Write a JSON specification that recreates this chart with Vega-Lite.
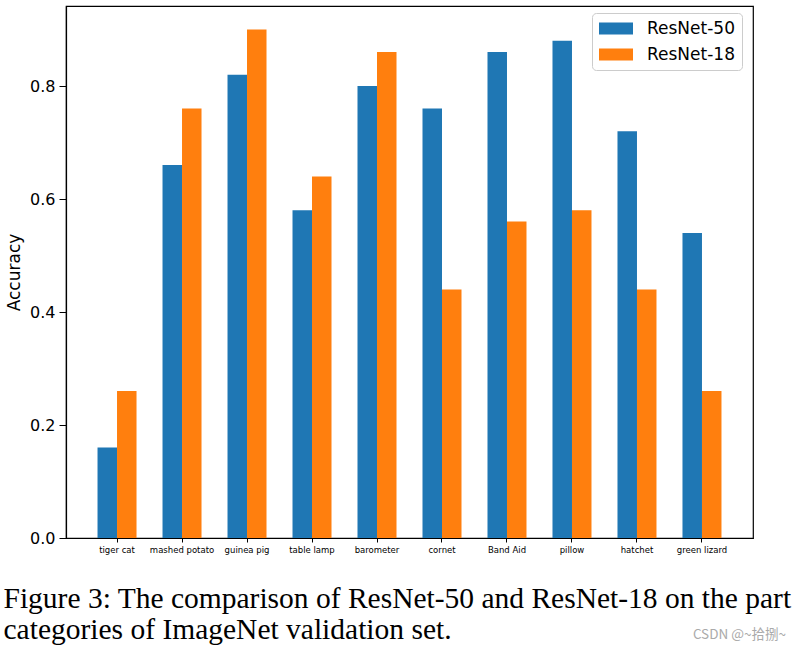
{
  "$schema": "https://vega.github.io/schema/vega-lite/v6.json",
  "width": 687,
  "height": 532,
  "autosize": {"type": "none"},
  "padding": {"left": 66, "top": 6, "right": 47, "bottom": 114},
  "background": "white",
  "config": {
    "view": {"stroke": "black", "strokeWidth": 1.2},
    "font": "DejaVu Sans"
  },
  "title": {
    "text": "CSDN @~拾捌~",
    "orient": "top",
    "anchor": "end",
    "frame": "group",
    "offset": 0,
    "dx": 33,
    "dy": 635,
    "font": "Noto Sans CJK SC",
    "fontSize": 13.5,
    "fontWeight": "normal",
    "color": "#aaaaaa"
  },
  "data": {
    "values": [
      {"category": "tiger cat", "model": "ResNet-50", "accuracy": 0.16},
      {"category": "tiger cat", "model": "ResNet-18", "accuracy": 0.26},
      {"category": "mashed potato", "model": "ResNet-50", "accuracy": 0.66},
      {"category": "mashed potato", "model": "ResNet-18", "accuracy": 0.76},
      {"category": "guinea pig", "model": "ResNet-50", "accuracy": 0.82},
      {"category": "guinea pig", "model": "ResNet-18", "accuracy": 0.90},
      {"category": "table lamp", "model": "ResNet-50", "accuracy": 0.58},
      {"category": "table lamp", "model": "ResNet-18", "accuracy": 0.64},
      {"category": "barometer", "model": "ResNet-50", "accuracy": 0.80},
      {"category": "barometer", "model": "ResNet-18", "accuracy": 0.86},
      {"category": "cornet", "model": "ResNet-50", "accuracy": 0.76},
      {"category": "cornet", "model": "ResNet-18", "accuracy": 0.44},
      {"category": "Band Aid", "model": "ResNet-50", "accuracy": 0.86},
      {"category": "Band Aid", "model": "ResNet-18", "accuracy": 0.56},
      {"category": "pillow", "model": "ResNet-50", "accuracy": 0.88},
      {"category": "pillow", "model": "ResNet-18", "accuracy": 0.58},
      {"category": "hatchet", "model": "ResNet-50", "accuracy": 0.72},
      {"category": "hatchet", "model": "ResNet-18", "accuracy": 0.44},
      {"category": "green lizard", "model": "ResNet-50", "accuracy": 0.54},
      {"category": "green lizard", "model": "ResNet-18", "accuracy": 0.26}
    ]
  },
  "mark": {"type": "bar"},
  "encoding": {
    "x": {
      "field": "category",
      "type": "nominal",
      "sort": null,
      "scale": {"paddingInner": 0.4, "paddingOuter": 0.485},
      "axis": {
        "title": ["Figure 3: The comparison of ResNet-50 and ResNet-18 on the part", "categories of ImageNet validation set."],
        "titleFont": "Liberation Serif",
        "titleFontSize": 29.5,
        "titleFontWeight": "normal",
        "titleColor": "black",
        "titleAnchor": "start",
        "titleAlign": "left",
        "titleBaseline": "alphabetic",
        "titleX": -63,
        "titleY": 69,
        "titleLineHeight": 31,
        "labelAngle": 0,
        "labelFontSize": 8.5,
        "labelColor": "black",
        "labelPadding": 3,
        "tickSize": 4,
        "tickColor": "black",
        "domainColor": "black",
        "domainWidth": 1.2
      }
    },
    "xOffset": {
      "field": "model",
      "type": "nominal",
      "sort": ["ResNet-50", "ResNet-18"]
    },
    "y": {
      "field": "accuracy",
      "type": "quantitative",
      "scale": {"domain": [0, 0.9416], "nice": false, "zero": true},
      "axis": {
        "title": "Accuracy",
        "titleFontSize": 17,
        "titleFontWeight": "normal",
        "titleColor": "black",
        "titlePadding": 6,
        "values": [0, 0.2, 0.4, 0.6, 0.8],
        "format": ".1f",
        "labelFontSize": 16,
        "labelColor": "black",
        "labelPadding": 4,
        "tickSize": 7,
        "tickColor": "black",
        "domainColor": "black",
        "domainWidth": 1.2,
        "grid": false
      }
    },
    "color": {
      "field": "model",
      "type": "nominal",
      "sort": ["ResNet-50", "ResNet-18"],
      "scale": {"domain": ["ResNet-50", "ResNet-18"], "range": ["#1f77b4", "#ff7f0e"]},
      "legend": {
        "title": null,
        "orient": "none",
        "legendX": 526,
        "legendY": 7,
        "padding": 7,
        "strokeColor": "#cccccc",
        "fillColor": "white",
        "cornerRadius": 4,
        "symbolType": "M-1,-0.7H3V0.7H-1Z",
        "symbolSize": 289,
        "symbolStrokeWidth": 0,
        "labelFontSize": 17,
        "labelColor": "black",
        "labelOffset": 31,
        "rowPadding": 8
      }
    }
  }
}
